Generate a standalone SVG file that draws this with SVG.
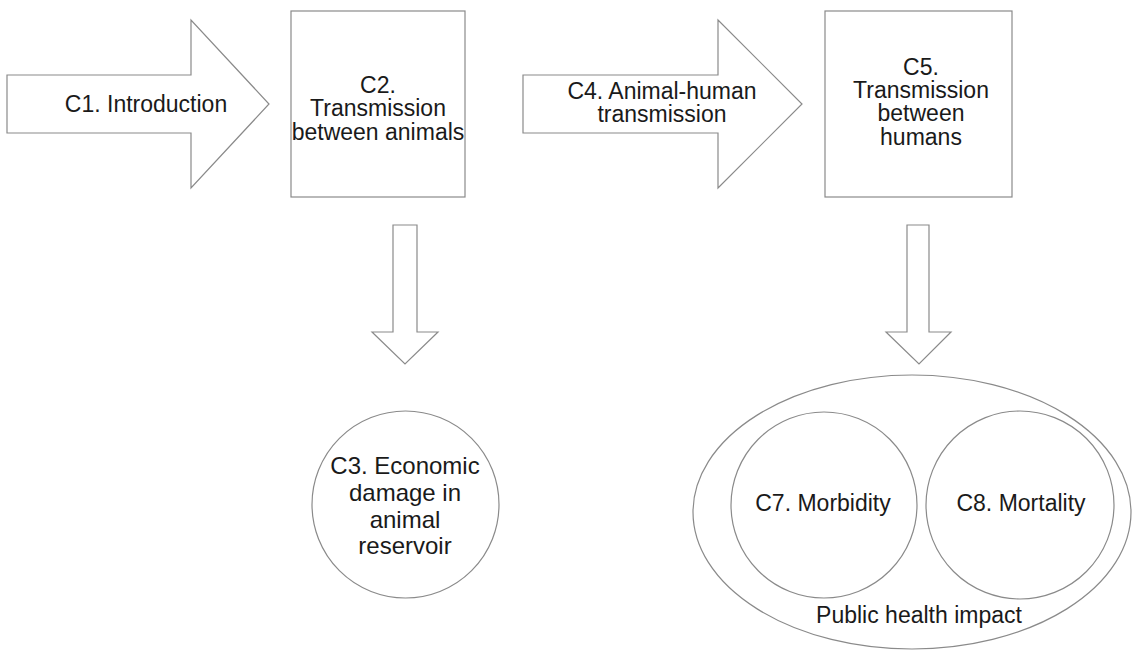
<svg xmlns="http://www.w3.org/2000/svg" width="1133" height="652" viewBox="0 0 1133 652">
<style>
.s{fill:#fff;stroke:#8a8a8a;stroke-width:1.2}
.t{font-family:"Liberation Sans",Arial,sans-serif;font-size:23px;fill:#1a1a1a;text-anchor:middle}
</style>
<rect width="1133" height="652" fill="#fff"/>
<g id="connectors">
<polygon id="c1" class="s" points="7,75 191,75 191,20 269,104 191,188 191,133 7,133"/>
<polygon id="c4" class="s" points="523,75 718,75 718,20 802,104 718,188 718,133 523,133"/>
<polygon id="down1" class="s" points="393,225 417,225 417,332 438,332 405,364 372,332 393,332"/>
<polygon id="down2" class="s" points="907,225 929,225 929,332 951,332 919,364 886,332 907,332"/>
</g>
<g id="n1"><text class="t" x="146" y="112">C1. Introduction</text></g>
<g id="n2">
<rect class="s" x="291" y="11" width="174" height="186"/>
<text class="t" x="378" y="93">C2.</text>
<text class="t" x="378" y="116">Transmission</text>
<text class="t" x="378" y="140">between animals</text>
</g>
<g id="n4">
<text class="t" x="662" y="99">C4. Animal-human</text>
<text class="t" x="662" y="122">transmission</text>
</g>
<g id="n5">
<rect class="s" x="825" y="11" width="187" height="186"/>
<text class="t" x="921" y="75">C5.</text>
<text class="t" x="921" y="98">Transmission</text>
<text class="t" x="921" y="121">between</text>
<text class="t" x="921" y="145">humans</text>
</g>
<g id="n3">
<circle class="s" cx="405.5" cy="504.5" r="93.5"/>
<text class="t" x="405" y="474" style="font-size:24px">C3. Economic</text>
<text class="t" x="405" y="501" style="font-size:24px">damage in</text>
<text class="t" x="405" y="528" style="font-size:24px">animal</text>
<text class="t" x="405" y="554" style="font-size:24px">reservoir</text>
</g>
<g id="n6">
<ellipse class="s" cx="912" cy="512" rx="219" ry="137"/>
<text class="t" x="919" y="623">Public health impact</text>
</g>
<g id="n7">
<circle class="s" cx="824" cy="505" r="93"/>
<text class="t" x="823" y="511">C7. Morbidity</text>
</g>
<g id="n8">
<circle class="s" cx="1020" cy="505" r="94"/>
<text class="t" x="1021" y="511">C8. Mortality</text>
</g>
</svg>
